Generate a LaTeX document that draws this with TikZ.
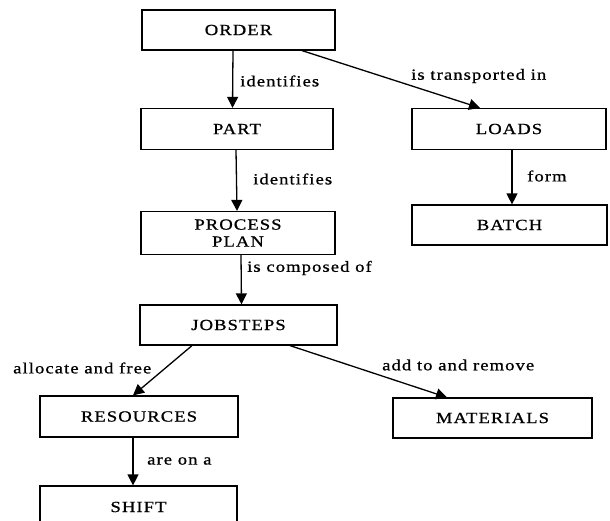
\documentclass[tikz,border=0pt]{standalone}
\usepackage{fontspec}
\setmainfont{Liberation Serif}[FakeStretch=1.2, LetterSpace=7, FakeBold=0.9]
\usetikzlibrary{arrows.meta}
\begin{document}
\begin{tikzpicture}[x=1pt,y=1pt,
  font=\fontsize{15.5}{17}\selectfont,
  box/.style={draw, line width=1.2pt, inner sep=0pt, align=center, minimum height=41pt},
  arr/.style={line width=1.3pt, -{Triangle[length=11pt,width=11pt]}},
  lab/.style={anchor=west, inner sep=0pt}]
\useasboundingbox (0,0) rectangle (610,-521);

\node[box, minimum width=193pt, minimum height=40pt] (order) at (238.5,-30) {ORDER};
\node[box, minimum width=192pt] (part) at (237,-129) {PART};
\node[box, minimum width=194pt, minimum height=43pt] (plan) at (238,-233) {PROCESS\\PLAN};
\node[box, minimum width=197pt, minimum height=40pt] (jobs) at (238.5,-325) {JOBSTEPS};
\node[box, minimum width=194pt] (loads) at (509,-129) {LOADS};
\node[box, minimum width=195pt, minimum height=40pt] (batch) at (509.5,-225) {BATCH};
\node[box, minimum width=198pt] (res) at (139,-416.5) {RESOURCES};
\node[box, minimum width=199pt, minimum height=40pt] (mat) at (492.5,-418) {MATERIALS};
\node[box, minimum width=197pt, minimum height=42pt] (shift) at (138.5,-507) {SHIFT};

\draw[arr] ([xshift=-5.5pt]order.south) -- ([xshift=-4.5pt]part.north);
\draw[arr] ([xshift=63.5pt]order.south) -- ([xshift=-29pt]loads.north);
\draw[arr] ([xshift=-1pt]part.south) -- ([xshift=-1pt]plan.north);
\draw[arr] ([xshift=3pt]plan.south) -- ([xshift=3pt]jobs.north);
\draw[arr] ([xshift=3pt]loads.south) -- ([xshift=2.5pt]batch.north);
\draw[arr] ([xshift=-46.5pt]jobs.south) -- ([xshift=-6pt]res.north);
\draw[arr] ([xshift=51.5pt]jobs.south) -- ([xshift=-45.5pt]mat.north);
\draw[arr] ([xshift=-6pt]res.south) -- ([xshift=-5.5pt]shift.north);

\node[lab] (l1) at (240,-81) {identifies};
\node[lab] (l2) at (411,-76) {is transported in};
\node[lab] (l3) at (253,-179) {identifies};
\node[lab] (l4) at (527,-176) {form};
\node[lab] (l5) at (247,-268) {is composed of};
\node[lab] (l6) at (13,-368) {allocate and free};
\node[lab] (l7) at (382,-365) {add to and remove};
\node[lab] (l8) at (147,-461) {are on a};
\end{tikzpicture}
\end{document}
